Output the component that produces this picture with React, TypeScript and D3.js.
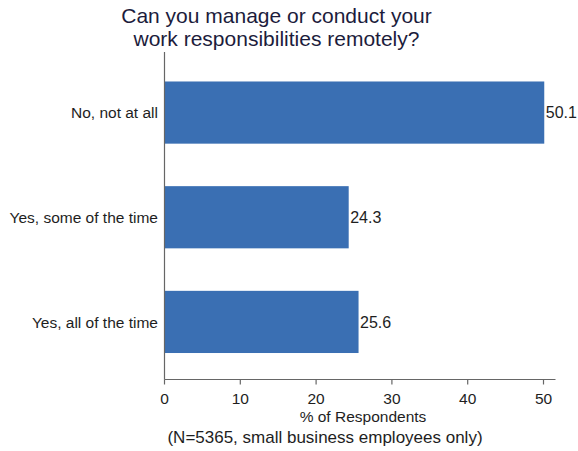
import React from "react";
import * as d3 from "d3";

const categories = ["No, not at all", "Yes, some of the time", "Yes, all of the time"];
const values = [50.1, 24.3, 25.6];
const xTicks = [0, 10, 20, 30, 40, 50];
const titleLines = ["Can you manage or conduct your", "work responsibilities remotely?"];
const xTitle = "% of Respondents";
const note = "(N=5365, small business employees only)";

const W = 578, H = 451;
const left = 164.5, right = 543.5, top = 55, bottom = 379.5;
const font = "Liberation Sans, Arial, Helvetica, sans-serif";
const barColor = "#3a6fb3";
const textColor = "#1e1e1e";

export default function App() {
  const x = d3.scaleLinear().domain([0, 50]).range([left, right]);
  const y = d3.scaleBand<string>().domain(categories).range([top, bottom]).paddingInner(0.406).paddingOuter(0.253);
  return (
    <svg width={W} height={H} style={{ position: "absolute", left: 0, top: 0, background: "#fff" }}>
      <rect x={0} y={0} width={W} height={H} fill="#fff" />
      {titleLines.map((t, i) => (
        <text key={i} x={276.5} y={23 + i * 23} textAnchor="middle" fontFamily={font} fontSize={21} fill="#1c1c3c">{t}</text>
      ))}
      {categories.map((c, i) => (
        <g key={c}>
          <rect x={x(0)} y={y(c)!} width={x(values[i]) - x(0)} height={y.bandwidth()} fill={barColor} />
          <text x={x(values[i]) + 1.5} y={y(c)! + y.bandwidth() / 2} dy="0.36em" fontFamily={font} fontSize={16} fill={textColor}>{values[i].toFixed(1)}</text>
          <text x={left - 6.5} y={y(c)! + y.bandwidth() / 2} dy="0.36em" textAnchor="end" fontFamily={font} fontSize={15.5} fill={textColor}>{c}</text>
        </g>
      ))}
      <line x1={left} x2={left} y1={top - 3} y2={bottom} stroke="#666" strokeWidth={1.2} />
      <line x1={left} x2={right + 12} y1={bottom} y2={bottom} stroke="#666" strokeWidth={1.2} />
      {xTicks.map((t) => (
        <g key={t}>
          <line x1={x(t)} x2={x(t)} y1={bottom} y2={bottom + 5} stroke="#666" strokeWidth={1.2} />
          <text x={x(t)} y={404} textAnchor="middle" fontFamily={font} fontSize={15.5} fill={textColor}>{t}</text>
        </g>
      ))}
      <text x={363} y={422} textAnchor="middle" fontFamily={font} fontSize={15.5} fill={textColor}>{xTitle}</text>
      <text x={325} y={443} textAnchor="middle" fontFamily={font} fontSize={17} fill={textColor}>{note}</text>
    </svg>
  );
}
